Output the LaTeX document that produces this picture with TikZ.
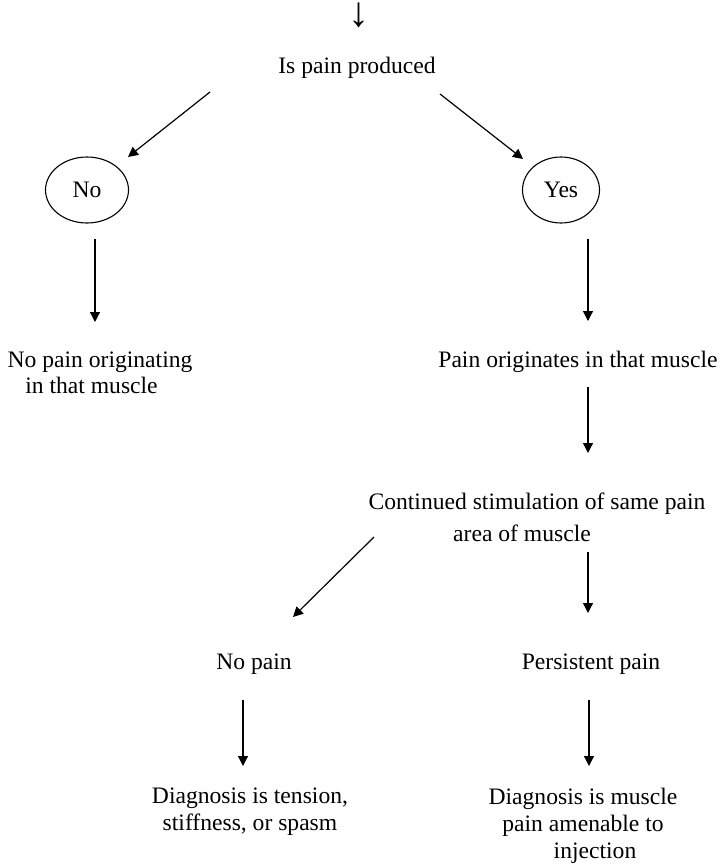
\documentclass[tikz,border=0pt]{standalone}
\usepackage{fontspec}
\setmainfont{Liberation Serif}
\usetikzlibrary{shapes.geometric,arrows.meta}
\begin{document}
\begin{tikzpicture}[x=1pt,y=-1pt,
  txt/.style={font=\fontsize{23.6}{28}\selectfont, inner sep=0pt, align=center},
  oval/.style={draw, ellipse, line width=1.1pt, inner sep=0pt, font=\fontsize{23.6}{28}\selectfont},
  arr/.style={line width=1.2pt, -{Triangle[length=10pt,width=10pt]}}]
\useasboundingbox (0,0) rectangle (721,864);
% nodes
\node[txt, font=\fontsize{42}{44}\selectfont] (topar) at (359,15) {↓};
\node[txt, anchor=base] (isp) at (357,74) {Is pain produced};
\node[oval, minimum width=83pt, minimum height=66pt] (no) at (87,190) {No};
\node[oval, minimum width=77pt, minimum height=66pt] (yes) at (561,190) {Yes};
\node[txt] (nporig) at (100,373) {No pain originating\\[-2pt]in that muscle\hspace*{17pt}};
\node[txt, anchor=base] (orig) at (578,367.5) {Pain originates in that muscle};
\node[txt, font=\fontsize{23.6}{32}\selectfont] (cont) at (537,517) {Continued stimulation of same pain\\area of muscle\hspace*{30pt}};
\node[txt, anchor=base] (nopain) at (254,669) {No pain};
\node[txt, anchor=base] (pers) at (591,669) {Persistent pain};
\node[txt, font=\fontsize{23.6}{27}\selectfont] (dleft) at (250,812) {Diagnosis is tension,\\stiffness, or spasm};
\node[txt, font=\fontsize{23.6}{27}\selectfont] (dright) at (583,825.5) {Diagnosis is muscle\\pain amenable to\\\hspace*{24pt}injection};
% connector end points
\coordinate (a1s) at (210,92);  \coordinate (a1e) at (128,157);
\coordinate (a2s) at (440,94);  \coordinate (a2e) at (523,159);
\coordinate (a3s) at (95,239);  \coordinate (a3e) at (95,322);
\coordinate (a4s) at (588,239); \coordinate (a4e) at (588,321);
\coordinate (a5s) at (588,387); \coordinate (a5e) at (588,453);
\coordinate (a6s) at (374,537); \coordinate (a6e) at (293,617);
\coordinate (a7s) at (588,552); \coordinate (a7e) at (588,613);
\coordinate (a8s) at (243,700); \coordinate (a8e) at (243,766);
\coordinate (a9s) at (589,700); \coordinate (a9e) at (589,766);
% connectors
\draw[arr] (a1s) -- (a1e);
\draw[arr] (a2s) -- (a2e);
\draw[arr] (a3s) -- (a3e);
\draw[arr] (a4s) -- (a4e);
\draw[arr] (a5s) -- (a5e);
\draw[arr] (a6s) -- (a6e);
\draw[arr] (a7s) -- (a7e);
\draw[arr] (a8s) -- (a8e);
\draw[arr] (a9s) -- (a9e);
\end{tikzpicture}
\end{document}
